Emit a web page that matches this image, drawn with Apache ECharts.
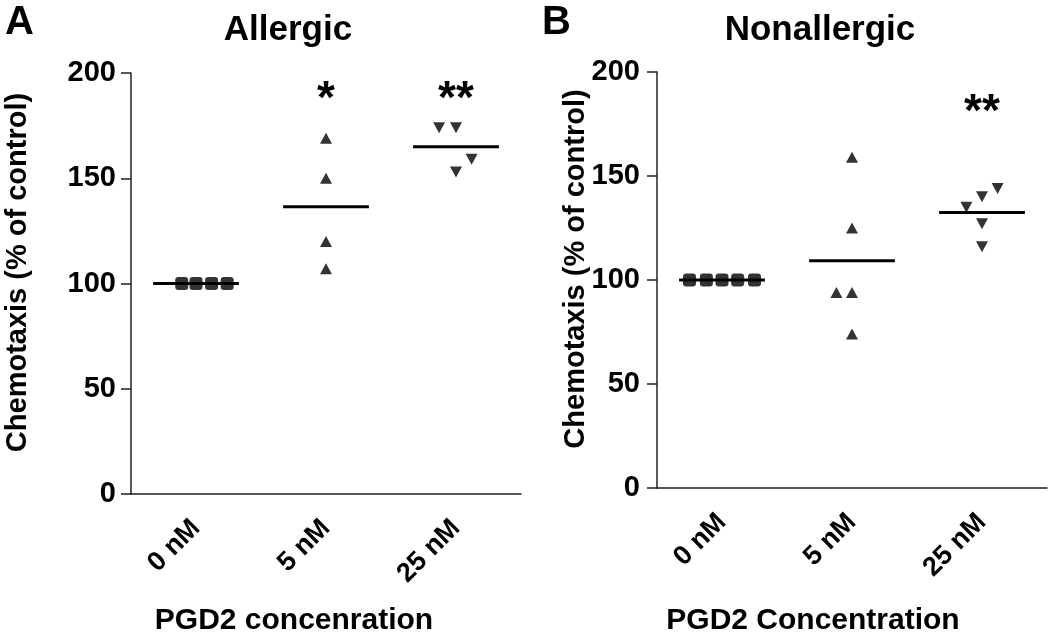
<!DOCTYPE html>
<html>
<head>
<meta charset="utf-8">
<script src="https://cdn.jsdelivr.net/npm/echarts@6/dist/echarts.min.js"></script>
<style>
html,body{margin:0;padding:0;background:#fff;}
#chart{width:1050px;height:641px;}
</style>
</head>
<body>
<div id="chart"></div>
<script>
// ---- data ----
const categories = ['0 nM', '5 nM', '25 nM'];
const yTicks = [0, 50, 100, 150, 200];

// Panel A (Allergic)
const allergic0 = [100, 100, 100, 100];
const allergic5 = [169, 150, 120, 107];
const allergic25 = [174, 174, 159, 153];
const allergicSpread0 = [-0.11, 0, 0.12, 0.24];
const allergicSpread5 = [0, 0, 0, 0];
const allergicSpread25 = [-0.13, 0, 0.12, 0];
const allergicStars = ['', '*', '**'];
const allergicStarLevel = 192;

// Panel B (Nonallergic)
const nonallergic0 = [100, 100, 100, 100, 100];
const nonallergic5 = [159, 125, 94, 94, 74];
const nonallergic25 = [144, 140, 135, 127, 116];
const nonallergicSpread0 = [-0.25, -0.12, 0, 0.12, 0.25];
const nonallergicSpread5 = [0, 0, -0.12, 0, 0];
const nonallergicSpread25 = [0.12, 0, -0.12, 0, 0];
const nonallergicStars = ['', '', '**'];
const nonallergicStarLevel = 185;

const panelTitles = ['Allergic', 'Nonallergic'];
const panelLetters = ['A', 'B'];
const xNames = ['PGD2 concenration', 'PGD2 Concentration'];
const yName = 'Chemotaxis (% of control)';

// ---- chart ----
const FONT = '"Liberation Sans", Arial, Helvetica, sans-serif';
const AXC = '#222';
const mean = a => a.reduce((s, v) => s + v, 0) / a.length;

function pts(vals, spread, idx) {
  return vals.map((v, i) => [idx + spread[i], v]);
}

const panels = [
  {groups: [allergic0, allergic5, allergic25], spreads: [allergicSpread0, allergicSpread5, allergicSpread25], stars: allergicStars, starLevel: allergicStarLevel},
  {groups: [nonallergic0, nonallergic5, nonallergic25], spreads: [nonallergicSpread0, nonallergicSpread5, nonallergicSpread25], stars: nonallergicStars, starLevel: nonallergicStarLevel}
];

const grids = [
  {left: 131, top: 73, width: 390, height: 424},
  {left: 657, top: 72, width: 390, height: 423}
];

const xAxes = [];
const yAxes = [];
const series = [];
const xNameCfg = [{gap: 112, pad: [0, 64, 0, 0]}, {gap: 118, pad: [0, 78, 0, 0]}];
const yNameGap = [99, 67];
const yLabelMargin = [15, 17];

panels.forEach((p, g) => {
  // visible category axis (labels + ticks)
  xAxes.push({
    type: 'category', gridIndex: g, data: categories, boundaryGap: true,
    axisLine: {onZero: false, lineStyle: {color: AXC, width: 1.5}},
    axisTick: {alignWithLabel: true, length: 8, lineStyle: {color: AXC, width: 1.5}},
    axisLabel: {rotate: 45, margin: 30, color: '#000', fontSize: 27, fontWeight: 'bold', fontFamily: FONT},
    name: xNames[g], nameLocation: 'middle', nameGap: xNameCfg[g].gap, nameMoveOverlap: false,
    nameTextStyle: {fontSize: 30, fontWeight: 'bold', fontFamily: FONT, color: '#000', padding: xNameCfg[g].pad},
    splitLine: {show: false}
  });
  // hidden value axis for placing points
  xAxes.push({
    type: 'value', gridIndex: g, min: -0.5, max: 2.5, show: false, splitLine: {show: false}
  });
  yAxes.push({
    type: 'value', gridIndex: g, min: 0, max: 200, interval: 50,
    axisLine: {show: true, onZero: false, lineStyle: {color: AXC, width: 1.5}},
    axisTick: {show: true, length: 10, lineStyle: {color: AXC, width: 1.5}},
    axisLabel: {margin: yLabelMargin[g], color: '#000', fontSize: 29, fontWeight: 'bold', fontFamily: FONT,
      customValues: yTicks},
    splitLine: {show: false},
    name: yName, nameLocation: 'middle', nameGap: yNameGap[g], nameMoveOverlap: false,
    nameTextStyle: {fontSize: 29, fontWeight: 'bold', fontFamily: FONT, color: '#000', padding: [0, 0, 0, 22]}
  });

  const xIdx = g * 2 + 1;
  const symbols = [
    {symbol: 'roundRect', symbolSize: 13, symbolRotate: 0},
    {symbol: 'triangle', symbolSize: [12, 11], symbolRotate: 0},
    {symbol: 'triangle', symbolSize: [12, 11], symbolRotate: 180}
  ];
  p.groups.forEach((vals, i) => {
    // mean line
    series.push({
      type: 'custom', xAxisIndex: xIdx, yAxisIndex: g, silent: true, z: 2,
      data: [[i, mean(vals)]],
      renderItem: function (params, api) {
        const a = api.coord([api.value(0) - 0.33, api.value(1)]);
        const b = api.coord([api.value(0) + 0.33, api.value(1)]);
        return {type: 'line', shape: {x1: a[0], y1: a[1], x2: b[0], y2: b[1]},
          style: {stroke: '#000', lineWidth: 3}};
      }
    });
    series.push({
      type: 'scatter', xAxisIndex: xIdx, yAxisIndex: g, z: 3,
      symbol: symbols[i].symbol, symbolSize: symbols[i].symbolSize, symbolRotate: symbols[i].symbolRotate,
      itemStyle: {color: '#000'},
      data: pts(vals, p.spreads[i], i)
    });
  });
  // significance stars
  const starData = p.stars.map((s, i) => [i, p.starLevel, s]).filter(d => d[2]);
  series.push({
    type: 'custom', xAxisIndex: xIdx, yAxisIndex: g, silent: true, z: 4,
    data: starData,
    renderItem: function (params, api) {
      const c = api.coord([api.value(0), api.value(1)]);
      return {type: 'text', x: c[0], y: c[1] + 10,
        style: {text: starData[params.dataIndex][2], fill: '#000', align: 'center', verticalAlign: 'middle',
          font: 'bold 46px ' + FONT}};
    }
  });
});

const chart = echarts.init(document.getElementById('chart'), null, {renderer: 'canvas'});
chart.setOption({
  animation: false,
  backgroundColor: '#fff',
  title: [
    {text: panelLetters[0], left: 0, top: -2, textStyle: {fontSize: 40, fontWeight: 'bold', fontFamily: FONT, color: '#000'}},
    {text: panelTitles[0], left: 283, textAlign: 'center', top: 8, textStyle: {fontSize: 35, fontWeight: 'bold', fontFamily: FONT, color: '#000'}},
    {text: panelLetters[1], left: 537, top: -2, textStyle: {fontSize: 40, fontWeight: 'bold', fontFamily: FONT, color: '#000'}},
    {text: panelTitles[1], left: 815, textAlign: 'center', top: 8, textStyle: {fontSize: 35, fontWeight: 'bold', fontFamily: FONT, color: '#000'}}
  ],
  grid: grids,
  xAxis: xAxes,
  yAxis: yAxes,
  series: series
});
</script>
</body>
</html>
